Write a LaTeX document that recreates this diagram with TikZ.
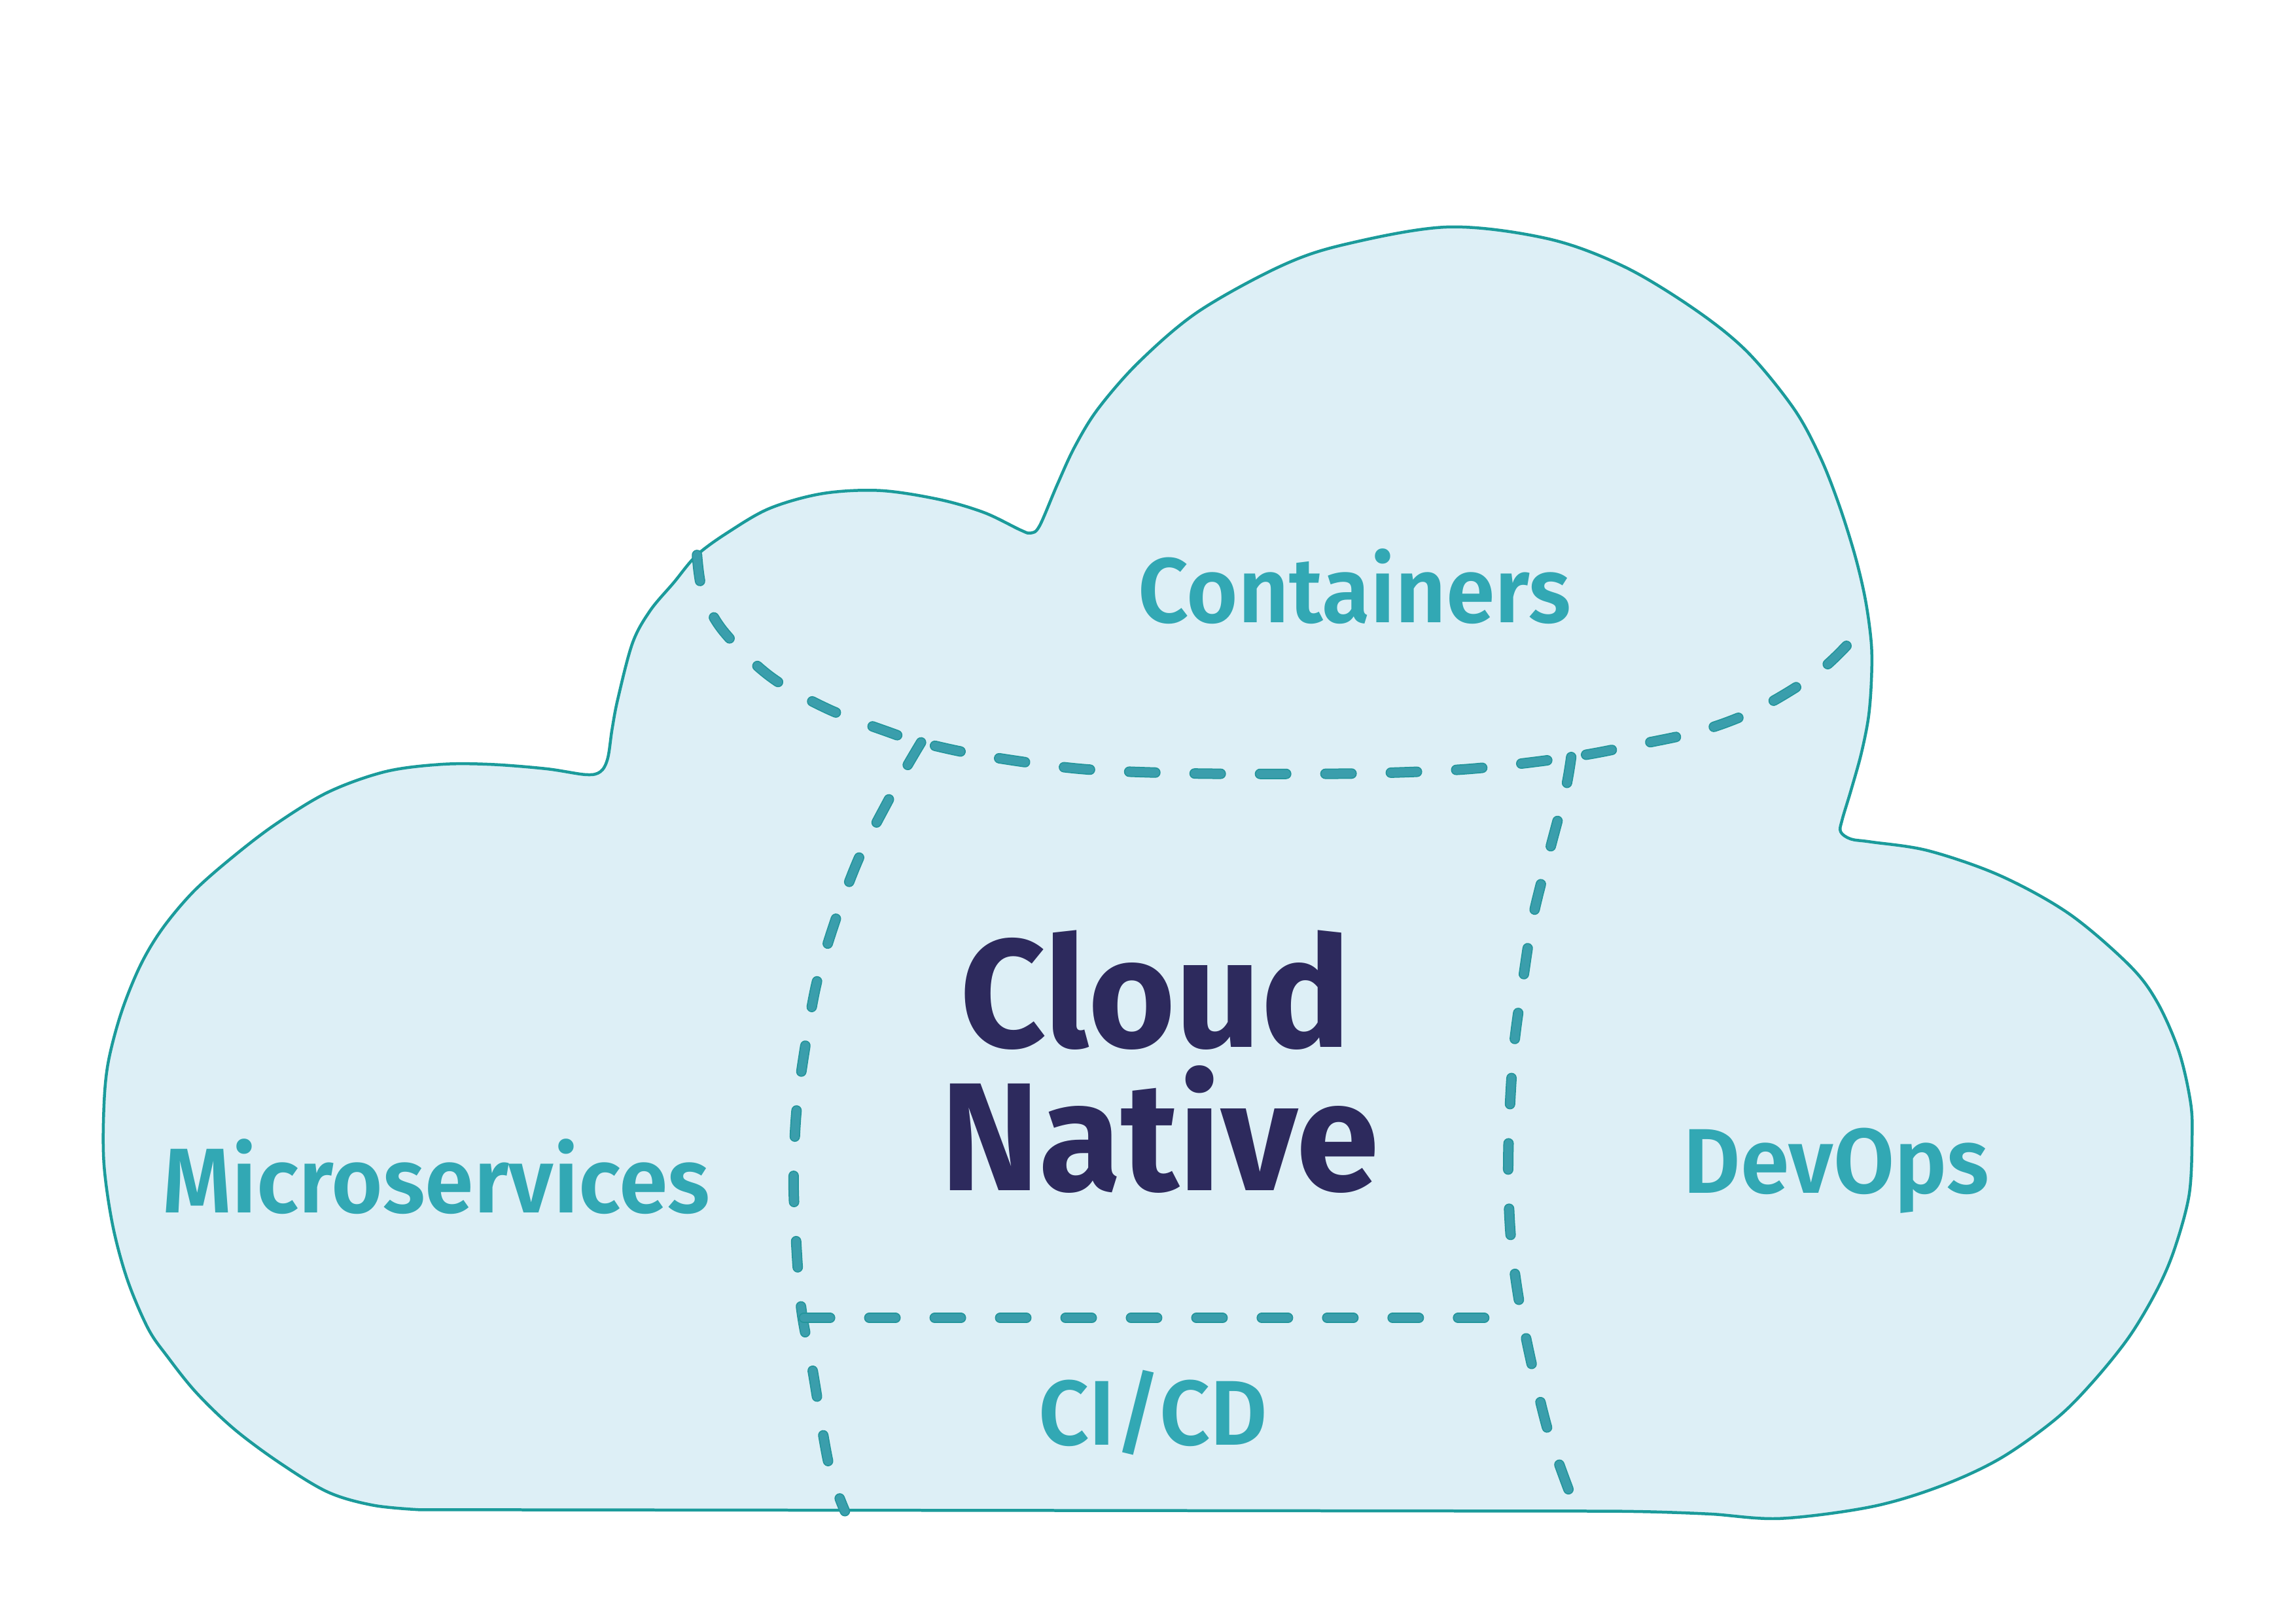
\documentclass[tikz,border=0pt]{standalone}
\usepackage{fontspec}
\newfontfamily\lblfont{Fira Sans}[UprightFont={* SemiBold}, FakeStretch=0.96]
\newfontfamily\ttlfont{Fira Sans}[UprightFont={* Bold}, FakeStretch=0.97]
\definecolor{cloudfill}{RGB}{221,239,246}
\definecolor{cloudedge}{RGB}{27,155,155}
\definecolor{dashedge}{RGB}{36,150,156}
\definecolor{dashfill}{RGB}{58,158,172}
\definecolor{labeltext}{RGB}{50,168,180}
\definecolor{titletext}{RGB}{45,42,93}
\begin{document}
\begin{tikzpicture}[x=0.022379cm,y=-0.022379cm,
  cloudline/.style={draw=cloudedge, line width=0.045cm, fill=cloudfill, line join=round},
  dashouter/.style={draw=dashedge, line width=0.16cm, line cap=round, dash pattern=on 0.40cm off 0.60cm},
  dashinner/.style={draw=dashfill, line width=0.125cm, line cap=round, dash pattern=on 0.40cm off 0.60cm},
  dashline/.style={dashinner, preaction={dashouter}},
  lbl/.style={font=\lblfont\fontsize{40}{48}\selectfont, text=labeltext, inner sep=0pt, anchor=base},
  ttl/.style={font=\ttlfont\fontsize{67}{62}\selectfont, text=titletext, inner sep=0pt, anchor=base}]
\useasboundingbox (0,0) rectangle (1568,1109);
\fill[white] (0,0) rectangle (1568,1109);

% cloud outline
\path[cloudline] plot[smooth, tension=0.55] coordinates {
(286,1031) (255,1028) (224,1019) (191,999) (160,976) (134,951) (114,926) (101,907)
(87,874) (77,837) (71,795) (71,755) (74,725) (83,691) (96,659) (111,634) (132,609)
(158,586) (188,563) (224,541) (263,527) (301,522) (335,522) (373,525) (400,529)
(410,527) (415,518) (418,498) (422,477) (432,439) (444,417) (460,398) (476,379)
(498,363) (526,347) (562,337) (601,335) (641,341) (672,350) (697,362) (704,364)
(710,359) (722,331) (734,305) (750,279) (778,247) (818,213) (874,182) (918,167)
(989,155) (1057,163) (1109,182) (1157,211) (1193,240) (1225,279) (1243,312)
(1256,345) (1267,380) (1274,410) (1278,440) (1278,465) (1276,490) (1271,515)
(1264,540) (1258,560) (1257,568) (1264,573) (1278,575) (1317,581) (1366,598)
(1413,624) (1454,659) (1473,684) (1488,718) (1496,753) (1497,778) (1495,816)
(1485,853) (1473,881) (1454,913) (1429,944) (1404,969) (1366,996) (1325,1015)
(1278,1029) (1216,1037) (1169,1034) (1130,1032.5) (1100,1032)} -- cycle;

% junction points
\coordinate (tl) at (476,379);
\coordinate (tr) at (1276,422);
\coordinate (cl) at (629,507);
\coordinate (cr) at (1073,517);
\coordinate (bl) at (577,1032);
\coordinate (br) at (1073,1022);
\coordinate (hl) at (549,900);
\coordinate (hr) at (1020,900);

% dashed structure
\draw[dashline] plot[smooth, tension=0.55] coordinates {
(tl) (480,405) (494,431) (526,462) (565,484) (607,500) (cl) (671,516) (737,525)
(804,528) (871,528.5) (938,528) (1005,525) (cr) (1116,509) (1162,499) (1201,484)
(1239,461) (1262,440) (tr)};
\draw[dashline] plot[smooth, tension=0.55] coordinates {
(cl) (619,524) (607,546) (587,585) (571,627) (558,670) (550,714) (544,758)
(542,802) (543,835) (547,892) (555,936) (566,1000) (bl)};
\draw[dashline] plot[smooth, tension=0.55] coordinates {
(cr) (1069,540) (1058,582) (1047,626) (1040,670) (1034,714) (1031,759)
(1030,803) (1032,848) (1038,892) (1047,936) (1058,980) (br)};
\draw[dashline] (hl) -- (hr);

% labels
\node[lbl] (containers) at (925,425) {Containers};
\node[lbl] (micro) at (298,828) {Microservices};
\node[lbl] (devops) at (1254,815) {DevOps};
\node[lbl] (cicd) at (787.5,987) {CI/CD};
\node[ttl] (cloud) at (789,715) {Cloud};
\node[ttl] (native) at (792,813) {Native};
\end{tikzpicture}
\end{document}
